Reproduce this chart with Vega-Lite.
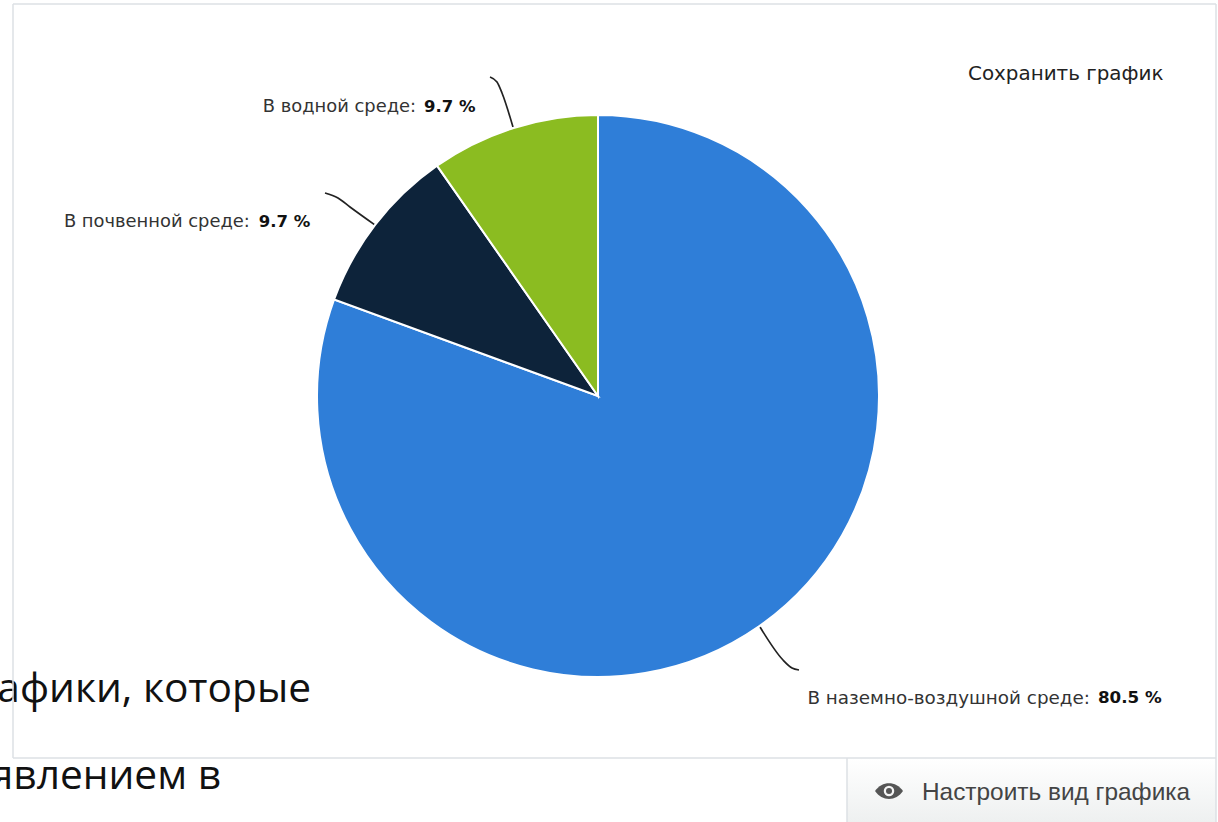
{
"$schema":"https://vega.github.io/schema/vega-lite/v6.json",
"autosize":{"type":"none"},
"width":1218,"height":822,"padding":0,
"background":"white",
"view":{"stroke":null},
"config":{"view":{"stroke":null}},
"datasets":{
"slices":[
{"name":"В наземно-воздушной среде:","share":80.5,"label":"80.5 %","ord":1},
{"name":"В почвенной среде:","share":9.7,"label":"9.7 %","ord":2},
{"name":"В водной среде:","share":9.7,"label":"9.7 %","ord":3}
],
"leaders":[
{"id":"a","o":1,"px":760,"py":627},{"id":"a","o":2,"px":783,"py":660},{"id":"a","o":3,"px":792,"py":668},{"id":"a","o":4,"px":799,"py":670},
{"id":"b","o":1,"px":375,"py":225},{"id":"b","o":2,"px":350,"py":207},{"id":"b","o":3,"px":338,"py":198},{"id":"b","o":4,"px":325,"py":193},
{"id":"c","o":1,"px":513,"py":127},{"id":"c","o":2,"px":502,"py":93},{"id":"c","o":3,"px":497,"py":82},{"id":"c","o":4,"px":490,"py":77}
],
"frame":[
{"px":13,"py":4,"px2":1216,"py2":4},
{"px":13,"py":4,"px2":13,"py2":758},
{"px":13,"py":758,"px2":1216,"py2":758},
{"px":1216,"py":4,"px2":1216,"py2":822},
{"px":847,"py":758,"px2":847,"py2":822}
]
},
"layer":[
{"data":{"values":[{"t":"афики, которые","px":311,"py":702},{"t":"явлением в","px":221,"py":789}]},
 "mark":{"type":"text","font":"Open Sans","fontSize":40.7,"align":"right","baseline":"alphabetic","color":"#111111"},
 "encoding":{"x":{"field":"px","type":"quantitative","scale":{"domain":[0,1218],"nice":false,"zero":false},"axis":null},
 "y":{"field":"py","type":"quantitative","scale":{"domain":[822,0],"nice":false,"zero":false},"axis":null},
 "text":{"field":"t"}}},
{"data":{"values":[{"px":847,"px2":1216,"py":758,"py2":822}]},
 "mark":{"type":"rect","color":{"gradient":"linear","x1":0,"y1":0,"x2":0,"y2":1,"stops":[{"offset":0,"color":"#ffffff"},{"offset":1,"color":"#eef0f0"}]}},
 "encoding":{"x":{"field":"px","type":"quantitative","axis":null},"x2":{"field":"px2"},"y":{"field":"py","type":"quantitative","axis":null},"y2":{"field":"py2"}}},
{"data":{"name":"frame"},
 "mark":{"type":"rule","color":"#dde0e5","strokeWidth":1.5},
 "encoding":{"x":{"field":"px","type":"quantitative","axis":null},"x2":{"field":"px2"},"y":{"field":"py","type":"quantitative","axis":null},"y2":{"field":"py2"}}},
{"data":{"name":"leaders"},
 "mark":{"type":"line","color":"#222222","strokeWidth":1.7,"interpolate":"monotone"},
 "encoding":{"x":{"field":"px","type":"quantitative","axis":null},"y":{"field":"py","type":"quantitative","axis":null},"detail":{"field":"id"},"order":{"field":"o"}}},
{"data":{"name":"slices"},
 "mark":{"type":"arc","outerRadius":281,"stroke":"white","strokeWidth":2},
 "encoding":{"x":{"value":598},"y":{"value":396},
 "theta":{"field":"share","type":"quantitative","stack":true},
 "order":{"field":"ord"},
 "color":{"field":"name","type":"nominal","legend":null,"sort":null,"scale":{"domain":["В наземно-воздушной среде:","В почвенной среде:","В водной среде:"],"range":["#2f7ed8","#0d233a","#8bbc21"]}}}},
{"data":{"name":"slices"},
 "mark":{"type":"text","radius":281,"font":"DejaVu Sans","fontSize":18.35,"align":"right","baseline":"middle","color":"#333333","dx":331,"dy":71.6},
 "encoding":{"x":{"value":598},"y":{"value":396},"theta":{"field":"share","type":"quantitative","stack":true},"order":{"field":"ord"},
 "text":{"condition":{"test":"datum.ord==1","field":"name"},"value":""}}},
{"data":{"name":"slices"},
 "mark":{"type":"text","radius":281,"font":"DejaVu Sans","fontSize":16.7,"fontWeight":"bold","align":"left","baseline":"middle","color":"#111111","dx":339,"dy":71.6},
 "encoding":{"x":{"value":598},"y":{"value":396},"theta":{"field":"share","type":"quantitative","stack":true},"order":{"field":"ord"},
 "text":{"condition":{"test":"datum.ord==1","field":"label"},"value":""}}},
{"data":{"name":"slices"},
 "mark":{"type":"text","radius":281,"font":"DejaVu Sans","fontSize":17.9,"align":"right","baseline":"middle","color":"#333333","dx":-125.4,"dy":-2.5},
 "encoding":{"x":{"value":598},"y":{"value":396},"theta":{"field":"share","type":"quantitative","stack":true},"order":{"field":"ord"},
 "text":{"condition":{"test":"datum.ord==2","field":"name"},"value":""}}},
{"data":{"name":"slices"},
 "mark":{"type":"text","radius":281,"font":"DejaVu Sans","fontSize":16.5,"fontWeight":"bold","align":"left","baseline":"middle","color":"#111111","dx":-116.4,"dy":-2.5},
 "encoding":{"x":{"value":598},"y":{"value":396},"theta":{"field":"share","type":"quantitative","stack":true},"order":{"field":"ord"},
 "text":{"condition":{"test":"datum.ord==2","field":"label"},"value":""}}},
{"data":{"name":"slices"},
 "mark":{"type":"text","radius":281,"font":"DejaVu Sans","fontSize":17.9,"align":"right","baseline":"middle","color":"#333333","dx":-97.5,"dy":-21},
 "encoding":{"x":{"value":598},"y":{"value":396},"theta":{"field":"share","type":"quantitative","stack":true},"order":{"field":"ord"},
 "text":{"condition":{"test":"datum.ord==3","field":"name"},"value":""}}},
{"data":{"name":"slices"},
 "mark":{"type":"text","radius":281,"font":"DejaVu Sans","fontSize":16.5,"fontWeight":"bold","align":"left","baseline":"middle","color":"#111111","dx":-89.5,"dy":-21},
 "encoding":{"x":{"value":598},"y":{"value":396},"theta":{"field":"share","type":"quantitative","stack":true},"order":{"field":"ord"},
 "text":{"condition":{"test":"datum.ord==3","field":"label"},"value":""}}},
{"data":{"values":[{"t":"Сохранить график","px":968,"py":74}]},
 "mark":{"type":"text","font":"DejaVu Sans","fontSize":19.9,"align":"left","baseline":"middle","color":"#222222"},
 "encoding":{"x":{"field":"px","type":"quantitative","axis":null},"y":{"field":"py","type":"quantitative","axis":null},"text":{"field":"t"}}},
{"data":{"values":[{"t":"Настроить вид графика","px":922,"py":793}]},
 "mark":{"type":"text","font":"Liberation Sans","fontSize":24.4,"align":"left","baseline":"middle","color":"#444444"},
 "encoding":{"x":{"field":"px","type":"quantitative","axis":null},"y":{"field":"py","type":"quantitative","axis":null},"text":{"field":"t"}}},
{"data":{"values":[{"px":889,"py":791}]},
 "mark":{"type":"point","filled":true,"color":"#555555","opacity":1,"size":784,"shape":"M-1,0 C-0.5,-0.75 0.5,-0.75 1,0 C0.5,0.75 -0.5,0.75 -1,0 Z"},
 "encoding":{"x":{"field":"px","type":"quantitative","axis":null},"y":{"field":"py","type":"quantitative","axis":null}}},
{"data":{"values":[{"px":889,"py":791}]},
 "mark":{"type":"point","filled":true,"color":"#f5f5f5","opacity":1,"size":110,"shape":"circle"},
 "encoding":{"x":{"field":"px","type":"quantitative","axis":null},"y":{"field":"py","type":"quantitative","axis":null}}},
{"data":{"values":[{"px":889,"py":791}]},
 "mark":{"type":"point","filled":true,"color":"#555555","opacity":1,"size":36,"shape":"circle"},
 "encoding":{"x":{"field":"px","type":"quantitative","axis":null},"y":{"field":"py","type":"quantitative","axis":null}}}
]
}
